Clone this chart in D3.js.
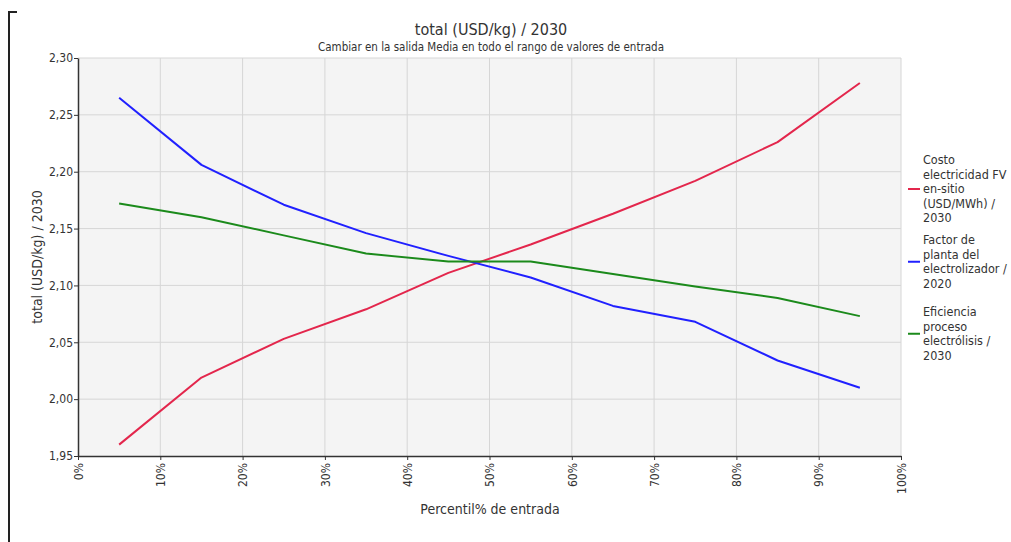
<!DOCTYPE html>
<html>
<head>
<meta charset="utf-8">
<script src="https://cdn.jsdelivr.net/npm/d3@7"></script>
<style>
  html, body { margin: 0; padding: 0; background: #fff; }
  svg { display: block; }
  text { font-family: "Liberation Sans Narrow", "DejaVu Sans Condensed", "Noto Sans", sans-serif; fill: #333; }
</style>
</head>
<body>
<svg id="chart" width="1011" height="542"></svg>
<script>
const percentiles = [5, 15, 25, 35, 45, 55, 65, 75, 85, 95];
const costoElectricidad = [1.960, 2.019, 2.053, 2.079, 2.111, 2.136, 2.163, 2.192, 2.226, 2.278];
const factorPlanta = [2.265, 2.206, 2.171, 2.146, 2.126, 2.107, 2.082, 2.068, 2.034, 2.010];
const eficienciaProceso = [2.172, 2.160, 2.144, 2.128, 2.121, 2.121, 2.110, 2.099, 2.089, 2.073];
const seriesLabels = [
  ["Costo", "electricidad FV", "en-sitio", "(USD/MWh) /", "2030"],
  ["Factor de", "planta del", "electrolizador /", "2020"],
  ["Eficiencia", "proceso", "electrólisis /", "2030"]
];
const seriesColors = ["#e3264c", "#2020ff", "#1b8a1b"];
const xTicks = [0, 10, 20, 30, 40, 50, 60, 70, 80, 90, 100];
const yTicks = [1.95, 2.00, 2.05, 2.10, 2.15, 2.20, 2.25, 2.30];
const title = "total (USD/kg) / 2030";
const subtitle = "Cambiar en la salida Media en todo el rango de valores de entrada";
const xTitle = "Percentil% de entrada";
const yTitle = "total (USD/kg) / 2030";

const svg = d3.select("#chart");
const L = 78, R = 901, T = 58, B = 456;
const x = d3.scaleLinear().domain([0, 100]).range([L, R]);
const y = d3.scaleLinear().domain([1.95, 2.30]).range([B, T]);
const fmt = d3.formatLocale({decimal: ",", thousands: ".", grouping: [3], currency: ["", ""]}).format(".2f");

// left bracket
svg.append("path").attr("d", "M9,542 V12 H17").attr("fill", "none").attr("stroke", "#222").attr("stroke-width", 2);

// plot background
svg.append("rect").attr("x", L).attr("y", T).attr("width", R - L).attr("height", B - T).attr("fill", "#f4f4f4");

// grid
svg.append("g").selectAll("line").data(xTicks.slice(1)).join("line")
  .attr("x1", d => x(d)).attr("x2", d => x(d)).attr("y1", T).attr("y2", B)
  .attr("stroke", "#d6d6d6").attr("stroke-width", 1);
svg.append("g").selectAll("line").data(yTicks.slice(1)).join("line")
  .attr("x1", L).attr("x2", R).attr("y1", d => y(d)).attr("y2", d => y(d))
  .attr("stroke", "#d6d6d6").attr("stroke-width", 1);

// axes
const yAxis = svg.append("g").attr("transform", `translate(${L},0)`)
  .call(d3.axisLeft(y).tickValues(yTicks).tickFormat(fmt).tickSize(4).tickSizeOuter(0));
yAxis.select(".domain").attr("stroke", "#333").attr("stroke-width", 1.5);
yAxis.selectAll(".tick line").attr("stroke", "#333");
yAxis.selectAll("text").attr("font-size", 12).attr("fill", "#444").attr("x", -5)
  .style("font-family", '"Liberation Sans Narrow", "DejaVu Sans Condensed", sans-serif');

const xAxis = svg.append("g").attr("transform", `translate(0,${B})`)
  .call(d3.axisBottom(x).tickValues(xTicks).tickFormat(d => d + "%").tickSize(4).tickSizeOuter(0));
xAxis.select(".domain").attr("stroke", "#333").attr("stroke-width", 1.5);
xAxis.selectAll(".tick line").attr("stroke", "#333");
xAxis.selectAll("text").attr("font-size", 12).attr("fill", "#444")
  .attr("transform", "rotate(-90)").attr("text-anchor", "end").attr("x", -7).attr("y", 0).attr("dy", "0.35em")
  .style("font-family", '"Liberation Sans Narrow", "DejaVu Sans Condensed", sans-serif');

// lines
const seriesData = [costoElectricidad, factorPlanta, eficienciaProceso];
const line = d3.line().x((d, i) => x(percentiles[i])).y(d => y(d));
svg.append("g").selectAll("path").data(seriesData).join("path")
  .attr("d", d => line(d)).attr("fill", "none")
  .attr("stroke", (d, i) => seriesColors[i]).attr("stroke-width", 2).attr("stroke-linejoin", "round");

// titles
svg.append("text").attr("x", 491).attr("y", 35).attr("text-anchor", "middle").attr("font-size", 16).text(title);
svg.append("text").attr("x", 491).attr("y", 51).attr("text-anchor", "middle").attr("font-size", 11.5).attr("fill", "#444").text(subtitle);
svg.append("text").attr("x", 490).attr("y", 514).attr("text-anchor", "middle").attr("font-size", 14).attr("fill", "#444").text(xTitle);
svg.append("text").attr("transform", "translate(42,257) rotate(-90)").attr("text-anchor", "middle").attr("font-size", 14).attr("fill", "#444").text(yTitle);

// legend
const legendStarts = [160, 240, 312];
const lh = 14.5;
seriesLabels.forEach((lines, i) => {
  const g = svg.append("g");
  const y0 = legendStarts[i];
  const mid = y0 + (lines.length - 1) * lh / 2;
  g.append("line").attr("x1", 908).attr("x2", 920).attr("y1", mid).attr("y2", mid)
    .attr("stroke", seriesColors[i]).attr("stroke-width", 2);
  const t = g.append("text").attr("x", 923).attr("font-size", 12.5).attr("fill", "#444");
  lines.forEach((s, j) => {
    t.append("tspan").attr("x", 923).attr("y", y0 + j * lh).attr("dy", "0.35em").text(s);
  });
});
</script>
</body>
</html>
